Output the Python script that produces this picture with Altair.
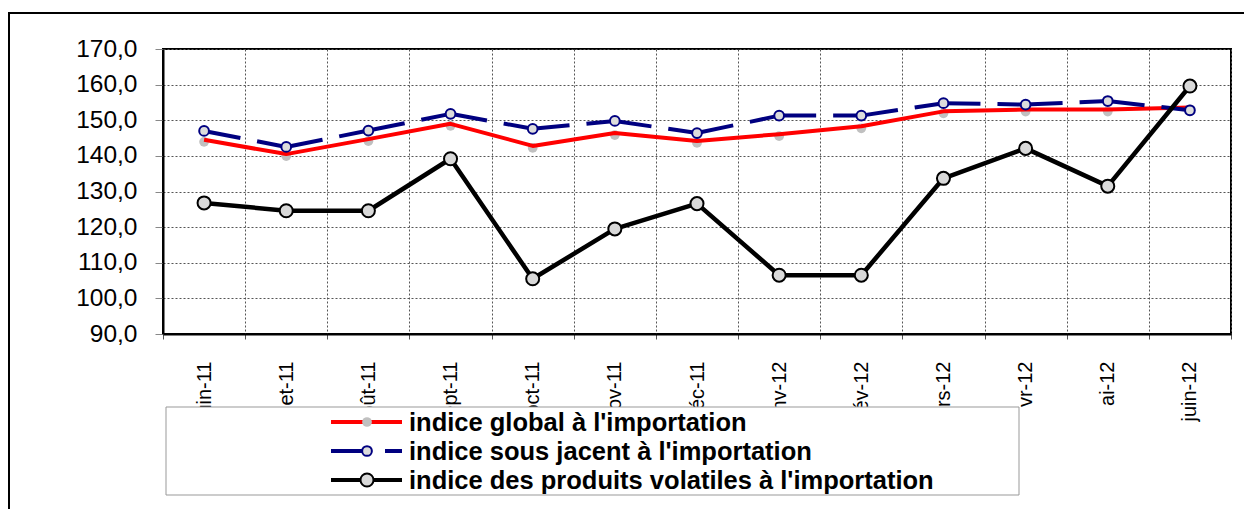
import altair as alt
import pandas as pd

months = ["juin-11", "juillet-11", "août-11", "sept-11", "oct-11", "nov-11", "déc-11",
          "janv-12", "fév-12", "mars-12", "avr-12", "mai-12", "juin-12"]
global_vals = [144.5, 140.5, 144.7, 149.0, 142.8, 146.4, 144.2, 146.1, 148.3, 152.5, 153.0, 153.0, 153.6]
sous_vals = [147.0, 142.5, 147.1, 151.8, 147.6, 149.8, 146.4, 151.3, 151.3, 154.8, 154.4, 155.4, 152.8]
vol_vals = [126.8, 124.6, 124.6, 139.2, 105.5, 119.5, 126.6, 106.5, 106.5, 133.7, 142.1, 131.5, 159.6]
series_names = ["indice global à l'importation",
                "indice sous jacent à l'importation",
                "indice des produits volatiles à l'importation"]
y_ticks = [90, 100, 110, 120, 130, 140, 150, 160, 170]

FONT = "Liberation Sans"

def frame(vals):
    return pd.DataFrame({"month": months, "value": vals, "i": list(range(len(months)))})

df_g = frame(global_vals)
df_s = frame(sous_vals)
df_v = frame(vol_vals)

# per-segment rows for the dashed series (dash restarts at every segment)
seg_rows = []
for k in range(len(months) - 1):
    for j in (k, k + 1):
        seg_rows.append({"seg": k, "month": months[j], "value": sous_vals[j], "i": j})
df_seg = pd.DataFrame(seg_rows)

X = alt.X("month:N", sort=months, bandPosition=0.5,
          scale=alt.Scale(type="band", domain=months, paddingInner=0, paddingOuter=0),
          axis=alt.Axis(title=None, labelAngle=270, labelFontSize=20, labelFont=FONT,
                        labelColor="black", tickBand="extent", tickSize=5, tickColor="#555",
                        labelPadding=22, domainColor="black", domainWidth=2,
                        grid=True, gridColor="#555", gridDash=[2, 2], gridWidth=1))
Y = alt.Y("value:Q",
          scale=alt.Scale(domain=[90, 170], nice=False, zero=False),
          axis=alt.Axis(title=None, values=y_ticks,
                        labelExpr="replace(format(datum.value, '.1f'), '.', ',')",
                        labelFontSize=24.5, labelFont=FONT, labelColor="black",
                        tickSize=8, tickColor="#888", labelPadding=18,
                        domainColor="black", domainWidth=2,
                        grid=True, gridColor="#555", gridDash=[2, 2], gridWidth=1))
O = alt.Order("i:Q")

one = pd.DataFrame({"a": [0]})

outer = alt.Chart(one).mark_rect(fill="white", fillOpacity=0, stroke="black", strokeWidth=2).encode(
    x=alt.value(-154), x2=alt.value(1300), y=alt.value(-36), y2=alt.value(700))

g_pts = alt.Chart(df_g).mark_point(filled=True, shape="circle", size=95, color="#c0c0c0", opacity=1,
                                   yOffset=2).encode(x=X, y=Y)
g_line = alt.Chart(df_g).mark_line(color="#ff0000", strokeWidth=4, strokeJoin="round").encode(x=X, y=Y, order=O)

s_line = alt.Chart(df_seg).mark_line(color="#000080", strokeWidth=4, strokeDash=[37, 17]).encode(
    x=X, y=Y, order=O, detail="seg:N")
s_pts = alt.Chart(df_s).mark_point(shape="circle", size=95, fill="#dcdcdc", stroke="#000080",
                                   strokeWidth=2, filled=False, opacity=1, fillOpacity=1).encode(x=X, y=Y)

v_line = alt.Chart(df_v).mark_line(color="black", strokeWidth=4.5, strokeJoin="round").encode(x=X, y=Y, order=O)
v_pts = alt.Chart(df_v).mark_point(shape="circle", size=170, fill="#d9d9d9", stroke="black",
                                   strokeWidth=2, filled=False, opacity=1, fillOpacity=1).encode(x=X, y=Y)

# legend area (white, wider than its visible box) and box
leg_area = alt.Chart(one).mark_rect(fill="white", strokeWidth=0).encode(
    x=alt.value(3), x2=alt.value(1000), y=alt.value(358), y2=alt.value(446))
leg_box = alt.Chart(one).mark_rect(fill="white", stroke="#999", strokeWidth=1).encode(
    x=alt.value(3), x2=alt.value(856), y=alt.value(358), y2=alt.value(446))

leg_layers = []
row_y = [373, 402, 431]
styles = [
    dict(color="#ff0000", dash=None, pfill="#c0c0c0", pstroke=None, psize=95),
    dict(color="#000080", dash=[37, 17], pfill="#dcdcdc", pstroke="#000080", psize=95),
    dict(color="black", dash=None, pfill="#d9d9d9", pstroke="black", psize=170),
]
for name, ry, st in zip(series_names, row_y, styles):
    d = pd.DataFrame({"name": [name]})
    rule_kw = dict(color=st["color"], strokeWidth=4)
    if st["dash"]:
        rule_kw["strokeDash"] = st["dash"]
    leg_layers.append(alt.Chart(d).mark_rule(**rule_kw).encode(
        x=alt.value(168), x2=alt.value(239), y=alt.value(ry)))
    pkw = dict(shape="circle", size=st["psize"], fill=st["pfill"], opacity=1, fillOpacity=1, filled=False)
    if st["pstroke"]:
        pkw.update(stroke=st["pstroke"], strokeWidth=2)
    else:
        pkw.update(strokeWidth=0)
    leg_layers.append(alt.Chart(d).mark_point(**pkw).encode(x=alt.value(204), y=alt.value(ry)))
    leg_layers.append(alt.Chart(d).mark_text(align="left", baseline="middle", font=FONT,
                                             fontSize=25.5, fontWeight="bold", color="black").encode(
        x=alt.value(246), y=alt.value(ry + 1), text="name:N"))

chart = alt.layer(outer, g_pts, g_line, s_line, s_pts, v_line, v_pts, leg_area, leg_box, *leg_layers).properties(
    width=1068, height=285,
    autosize=alt.AutoSizeParams(type="none"),
    padding={"left": 155, "top": 41, "right": 13, "bottom": 175},
    background="white",
).configure_view(stroke="black", strokeWidth=2)

chart.save("out.html", embed_options={"renderer": "svg", "actions": False})
